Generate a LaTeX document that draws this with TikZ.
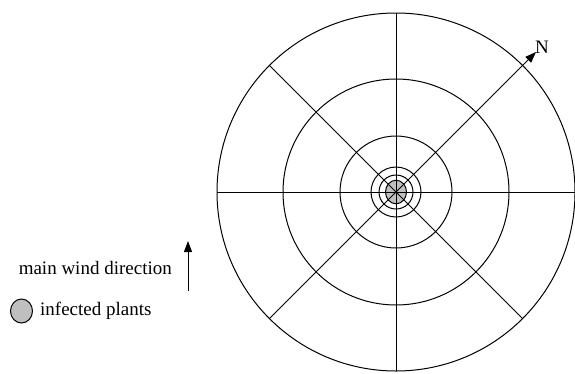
\documentclass[tikz,border=0pt]{standalone}
\usepackage{fontspec}
\setmainfont{Liberation Serif}
\usetikzlibrary{arrows.meta,calc}
\begin{document}
\begin{tikzpicture}[x=1pt,y=-1pt,
  ring/.style={draw=black,line width=1pt},
  spoke/.style={draw=black,line width=1pt},
  tip/.style={-{Triangle[length=11pt,width=8pt]}},
  lbl/.style={font=\fontsize{19}{22}\selectfont,inner sep=0pt},
  infected/.style={draw=black,line width=1pt,fill=black!25}]
\useasboundingbox (0,0) rectangle (575,373);
\coordinate (c) at (396,192);
% rings
\foreach \r in {179,113,56,25,17}{\draw[ring] (c) circle[radius=\r];}
\draw[infected] (c) ellipse[x radius=10.5,y radius=11.8];
% spokes
\coordinate (top) at (396,13);
\coordinate (bot) at (396,371);
\coordinate (lft) at (217,192);
\coordinate (rgt) at (575,192);
\coordinate (nw) at ($(c)+(-126.6,-126.6)$);
\coordinate (sw) at ($(c)+(-126.6,126.6)$);
\coordinate (se) at ($(c)+(126.6,126.6)$);
\coordinate (ne) at (536,52);
\draw[spoke] (top) -- (bot);
\draw[spoke] (lft) -- (rgt);
\draw[spoke] (nw) -- (se);
\draw[spoke,tip] (sw) -- (ne);
\node[lbl] (N) at (542,47) {N};
% legend
\coordinate (w0) at (188,291);
\coordinate (w1) at (188,241);
\draw[spoke,tip] (w0) -- (w1);
\node[lbl,anchor=east] (wind) at (172,268) {main wind direction};
\draw[infected] (21.5,311) ellipse[x radius=11,y radius=12];
\node[lbl,anchor=west] (inf) at (40,311) {infected plants};
\end{tikzpicture}
\end{document}
